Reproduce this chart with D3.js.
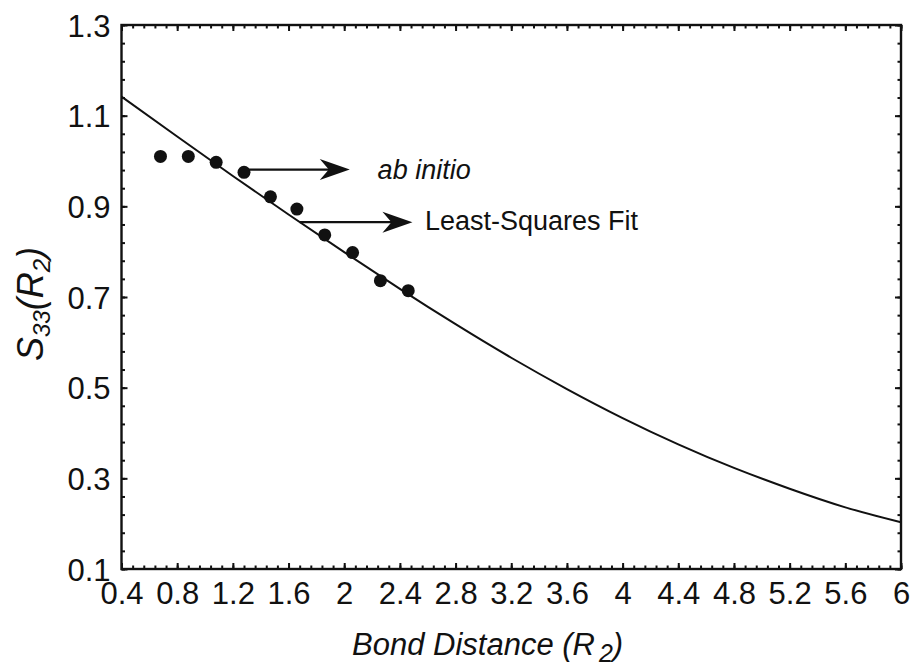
<!DOCTYPE html>
<html>
<head>
<meta charset="utf-8">
<script src="https://cdn.jsdelivr.net/npm/d3@7"></script>
<style>
body { margin: 0; background: #fff; }
svg { display: block; }
text { font-family: "Liberation Sans", Arial, Helvetica, sans-serif; fill: #111; }
</style>
</head>
<body>
<div class="chart"></div>
<script>
var chartwidth = 914
var chartheight = 667

// fitted curve
var fitX = [0.4, 0.8, 1.2, 1.6, 2.0, 2.4, 2.8, 3.2, 3.6, 4.0, 4.4, 4.8, 5.2, 5.6, 6.0]
var fitY = [1.142, 1.054, 0.967, 0.882, 0.799, 0.718, 0.640, 0.566, 0.497, 0.433, 0.375, 0.323, 0.277, 0.236, 0.203]

// ab initio points
var abX = [0.68, 0.88, 1.08, 1.28, 1.47, 1.66, 1.86, 2.06, 2.26, 2.46]
var abY = [1.010, 1.010, 0.997, 0.975, 0.921, 0.894, 0.837, 0.798, 0.736, 0.714]

var xTicks = [0.4, 0.8, 1.2, 1.6, 2, 2.4, 2.8, 3.2, 3.6, 4, 4.4, 4.8, 5.2, 5.6, 6]
var yTicks = [0.1, 0.3, 0.5, 0.7, 0.9, 1.1, 1.3]

// annotations: label, arrow start x, arrow end x, arrow y, text x, text baseline y
var notes = [
    {label: "ab initio", italic: true, x0: 1.31, x1: 2.04, y: 0.981, tx: 2.24, ty: 0.96},
    {label: "Least-Squares Fit", italic: false, x0: 1.68, x1: 2.49, y: 0.865, tx: 2.58, ty: 0.848}
]

var pLeft = 121.5, pRight = 901, pTop = 25, pBottom = 569

var x = d3.scaleLinear().domain([0.4, 6]).range([pLeft, pRight])
var y = d3.scaleLinear().domain([0.1, 1.3]).range([pBottom, pTop])

var svg = d3.select('.chart').append('svg')
    .attr("width", chartwidth)
    .attr("height", chartheight)

var xMinor = d3.range(0, 71).map(i => 0.4 + i * 0.08).filter(v => v < 6.001)
var yMinor = d3.range(0, 31).map(i => 0.1 + i * 0.04).filter(v => v < 1.301)

function styleAxis(g) {
    g.select('.domain').remove()
    g.selectAll('line').attr("stroke", "#111").attr("stroke-width", 2)
}

// minor ticks on all four sides
svg.append('g').attr("transform", `translate(0,${pBottom})`)
    .call(d3.axisBottom(x).tickValues(xMinor).tickSize(-3.5).tickFormat(""))
    .call(styleAxis)
svg.append('g').attr("transform", `translate(0,${pTop})`)
    .call(d3.axisTop(x).tickValues(xMinor).tickSize(-3.5).tickFormat(""))
    .call(styleAxis)
svg.append('g').attr("transform", `translate(${pLeft},0)`)
    .call(d3.axisLeft(y).tickValues(yMinor).tickSize(-3.5).tickFormat(""))
    .call(styleAxis)
svg.append('g').attr("transform", `translate(${pRight},0)`)
    .call(d3.axisRight(y).tickValues(yMinor).tickSize(-3.5).tickFormat(""))
    .call(styleAxis)

// major ticks with labels
var xAxis = svg.append('g').attr("transform", `translate(0,${pBottom})`)
    .call(d3.axisBottom(x).tickValues(xTicks).tickSize(-6).tickPadding(13).tickFormat(d => String(d)))
    .call(styleAxis)
xAxis.selectAll('text').style("font-size", "31px").attr("fill", "#111")

var yAxis = svg.append('g').attr("transform", `translate(${pLeft},0)`)
    .call(d3.axisLeft(y).tickValues(yTicks).tickSize(-6).tickPadding(11).tickFormat(d => String(d)))
    .call(styleAxis)
yAxis.selectAll('text').style("font-size", "31px").attr("fill", "#111").attr("dy", "0.36em")

svg.append('g').attr("transform", `translate(0,${pTop})`)
    .call(d3.axisTop(x).tickValues(xTicks).tickSize(-6).tickFormat(""))
    .call(styleAxis)
svg.append('g').attr("transform", `translate(${pRight},0)`)
    .call(d3.axisRight(y).tickValues(yTicks).tickSize(-6).tickFormat(""))
    .call(styleAxis)

// frame
svg.append('rect')
    .attr("x", pLeft).attr("y", pTop)
    .attr("width", pRight - pLeft).attr("height", pBottom - pTop)
    .attr("fill", "none").attr("stroke", "#111").attr("stroke-width", 2.4)

// fitted curve
var line = d3.line()
    .x(d => x(d[0]))
    .y(d => y(d[1]))
    .curve(d3.curveNatural)

svg.append('path')
    .datum(fitX.map((v, i) => [v, fitY[i]]))
    .attr("d", line)
    .attr("fill", "none")
    .attr("stroke", "#111")
    .attr("stroke-width", 2)

// ab initio dots
svg.append('g').selectAll('circle')
    .data(abX.map((v, i) => [v, abY[i]]))
    .enter().append('circle')
    .attr("cx", d => x(d[0]))
    .attr("cy", d => y(d[1]))
    .attr("r", 6.5)
    .attr("fill", "#111")

// arrows + labels
var ann = svg.append('g')
ann.selectAll('line')
    .data(notes)
    .enter().append('line')
    .attr("x1", d => x(d.x0))
    .attr("x2", d => x(d.x1) - 20)
    .attr("y1", d => y(d.y))
    .attr("y2", d => y(d.y))
    .attr("stroke", "#111")
    .attr("stroke-width", 2.2)

ann.selectAll('path')
    .data(notes)
    .enter().append('path')
    .attr("d", d => {
        var tx = x(d.x1), ty = y(d.y)
        return `M${tx},${ty} L${tx - 30},${ty - 10.5} L${tx - 21},${ty} L${tx - 30},${ty + 10.5} Z`
    })
    .attr("fill", "#111")

ann.selectAll('text')
    .data(notes)
    .enter().append('text')
    .attr("x", d => x(d.tx))
    .attr("y", d => y(d.ty))
    .style("font-size", "27px")
    .style("font-style", d => d.italic ? "italic" : "normal")
    .text(d => d.label)

// axis titles
var xt = svg.append('text')
    .attr("x", 352)
    .attr("y", 655)
    .style("font-size", "31px")
    .style("font-style", "italic")
xt.append('tspan').text("Bond Distance (R")
xt.append('tspan').attr("dx", 4).attr("dy", 7).style("font-size", "25px").text("2")
xt.append('tspan').attr("dy", -7).text(")")

var yt = svg.append('text')
    .attr("transform", `translate(43,${(pTop + pBottom) / 2 + 7}) rotate(-90)`)
    .attr("text-anchor", "middle")
    .style("font-size", "36px")
    .style("font-style", "italic")
yt.append('tspan').text("S")
yt.append('tspan').attr("dy", 7).style("font-size", "24px").text("33")
yt.append('tspan').attr("dy", -7).text("(R")
yt.append('tspan').attr("dy", 7).style("font-size", "24px").text("2")
yt.append('tspan').attr("dy", -7).text(")")
</script>
</body>
</html>
